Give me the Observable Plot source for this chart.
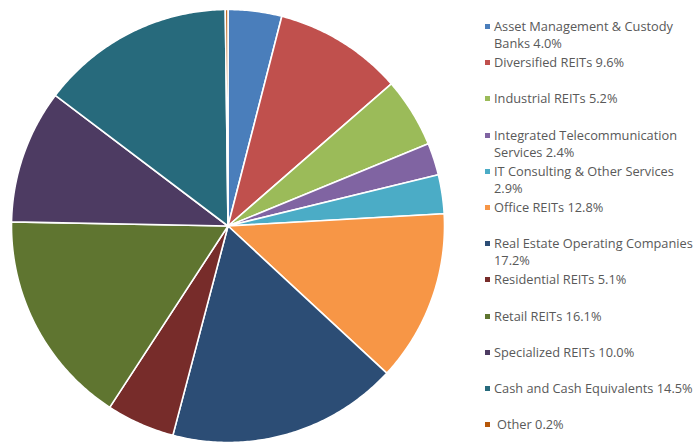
<!DOCTYPE html>
<html>
<head>
<meta charset="utf-8">
<script src="https://cdn.jsdelivr.net/npm/d3@7"></script>
<script src="https://cdn.jsdelivr.net/npm/@observablehq/plot@0.6"></script>
<style>
  html, body { margin: 0; padding: 0; background: #fff; }
  #wrap { position: relative; width: 696px; height: 443px; overflow: hidden; }
  #legend { position: absolute; left: 484px; top: 18px; width: 212px;
    font-family: "Open Sans", sans-serif; font-size: 12.8px; color: #595959; white-space: nowrap; }
  .item { height: 36.2px; display: flex; align-items: flex-start; line-height: 17px; }
  .sw { width: 5px; height: 5px; margin: 6px 4px 0 1px; flex: none; }
</style>
</head>
<body>
<div id="wrap"><div id="chart"></div><div id="legend"></div></div>
<script>
const categories = [
  "Asset Management & Custody Banks",
  "Diversified REITs",
  "Industrial REITs",
  "Integrated Telecommunication Services",
  "IT Consulting & Other Services",
  "Office REITs",
  "Real Estate Operating Companies",
  "Residential REITs",
  "Retail REITs",
  "Specialized REITs",
  "Cash and Cash Equivalents",
  "Other"
];
const values = [4.0, 9.6, 5.2, 2.4, 2.9, 12.8, 17.2, 5.1, 16.1, 10.0, 14.5, 0.2];
const colors = ["#4a7ebb", "#c0504d", "#9bbb59", "#8064a2", "#4bacc6", "#f79646",
                "#2c4d75", "#772c2a", "#5f7530", "#4d3b62", "#276a7c", "#b65708"];
const legendBreaks = ["Asset Management & Custody|Banks 4.0%", null, null,
  "Integrated Telecommunication|Services 2.4%", "IT Consulting & Other Services|2.9%", null,
  "Real Estate Operating Companies|17.2%", null, null, null, null, null];

// Pie geometry from d3.pie (clockwise from 12 o'clock)
const arcs = d3.pie().sort(null).value(d => d)(values);
const pts = [];
arcs.forEach((a, i) => {
  const n = Math.max(2, Math.ceil((a.endAngle - a.startAngle) / 0.01));
  pts.push({k: categories[i], x: 0, y: 0});
  for (let j = 0; j <= n; j++) {
    const t = a.startAngle + (a.endAngle - a.startAngle) * j / n;
    pts.push({k: categories[i], x: Math.sin(t), y: Math.cos(t)});
  }
  pts.push({k: categories[i], x: 0, y: 0});
});

const cx = 227.5, cy = 225.5, r = 216.5;
const chart = Plot.plot({
  width: 696, height: 443,
  marginLeft: cx - r, marginRight: 696 - (cx + r),
  marginTop: cy - r, marginBottom: 443 - (cy + r),
  x: {domain: [-1, 1], axis: null},
  y: {domain: [-1, 1], axis: null},
  color: {domain: categories, range: colors},
  marks: [
    Plot.line(pts, {x: "x", y: "y", z: "k", fill: "k", stroke: "white", strokeWidth: 1.6, strokeLinejoin: "round", curve: "linear"})
  ]
});
document.getElementById("chart").appendChild(chart);

const legend = document.getElementById("legend");
categories.forEach((c, i) => {
  const item = document.createElement("div");
  item.className = "item";
  const sw = document.createElement("div");
  sw.className = "sw";
  sw.style.background = colors[i];
  const tx = document.createElement("div");
  const label = legendBreaks[i] || `${c} ${values[i].toFixed(1)}%`;
  label.split("|").forEach((s, k) => {
    if (k) tx.appendChild(document.createElement("br"));
    tx.appendChild(document.createTextNode(s));
  });
  if (c === "Other") tx.style.marginLeft = "3px";
  item.appendChild(sw);
  item.appendChild(tx);
  legend.appendChild(item);
});
</script>
</body>
</html>
